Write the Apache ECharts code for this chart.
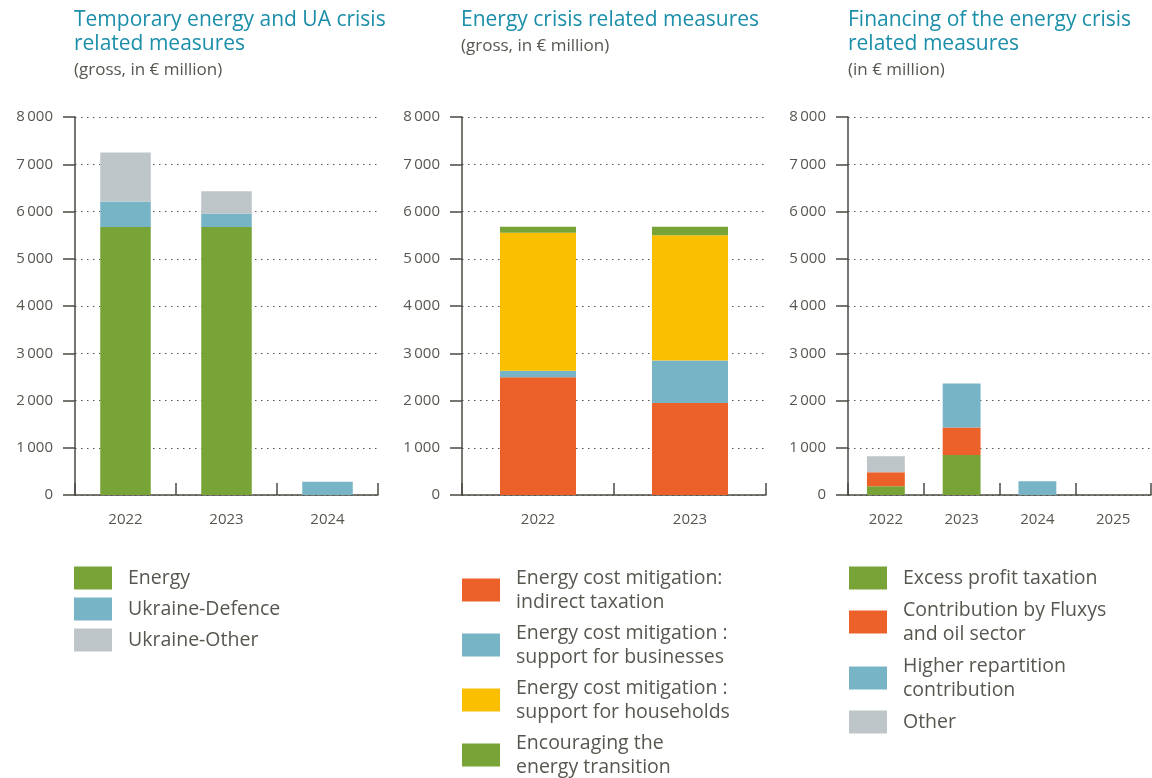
<!DOCTYPE html>
<html>
<head>
<meta charset="utf-8">
<script src="https://cdn.jsdelivr.net/npm/echarts@6/dist/echarts.min.js"></script>
<style>
html,body{margin:0;padding:0;background:#fff;}
#main{width:1152px;height:778px;}
</style>
</head>
<body>
<div id="main"></div>
<script>
// panel 1 : temporary energy and UA crisis measures
var years1 = ['2022', '2023', '2024'];
var energy = [5670, 5670, 0];
var uaDefence = [540, 290, 280];
var uaOther = [1040, 470, 0];

// panel 2 : energy crisis related measures
var years2 = ['2022', '2023'];
var indirectTax = [2490, 1945];
var businesses = [140, 900];
var households = [2920, 2650];
var transition = [125, 180];

// panel 3 : financing
var years3 = ['2022', '2023', '2024', '2025'];
var excessProfit = [185, 845, 0, 0];
var fluxys = [295, 585, 0, 0];
var repartition = [0, 930, 290, 0];
var finOther = [340, 0, 0, 0];

var GREEN = '#78a337', BLUE = '#76b4c6', GREY = '#bec5c8', RED = '#eb6129', YELLOW = '#f9bf00';
var TXT = '#57564f', AXIS = '#4c4a43', TEAL = '#1b8ea9';
var FONT = 'Open Sans';

function fmt(v){
	var s = String(v);
	if(s.length > 3){
		s = s.slice(0, s.length-3) + '\u2009' + s.slice(s.length-3);
	}
	return s;
}

function xAx(idx, cats){
	return {
		type: 'category', gridIndex: idx, data: cats,
		axisLine: { lineStyle: { color: AXIS, width: 1.5 } },
		axisTick: { show: true, inside: true, length: 12, lineStyle: { color: AXIS, width: 1.5 } },
		axisLabel: { color: TXT, fontSize: 15, fontFamily: FONT, margin: 17 }
	};
}
function yAx(idx){
	return {
		type: 'value', gridIndex: idx, min: 0, max: 8000, interval: 1000,
		axisLine: { show: true, lineStyle: { color: AXIS, width: 1.5 } },
		axisTick: { show: true, length: 12, lineStyle: { color: AXIS, width: 1.5 } },
		axisLabel: { color: TXT, fontSize: 15, fontFamily: FONT, margin: 22, formatter: fmt },
		splitLine: { show: true, lineStyle: { color: '#555', width: 1, type: [1.5, 4.5] } }
	};
}
function bar(name, data, idx, color){
	return {
		name: name, type: 'bar', stack: 's' + idx, xAxisIndex: idx, yAxisIndex: idx,
		data: data, barWidth: '50%', itemStyle: { color: color }, silent: true
	};
}
function leg(left, names, gap){
	return {
		left: left, top: 566, height: 300, orient: 'vertical', padding: 0, itemGap: gap,
		itemWidth: 38, itemHeight: 23, icon: 'rect', selectedMode: false,
		data: names,
		textStyle: { color: TXT, fontSize: 19.5, fontFamily: FONT, lineHeight: 24, padding: [0, 0, 0, 11] }
	};
}
function ttl(left, text, sub){
	return {
		left: left, top: 8, padding: 0, itemGap: 4, text: text, subtext: sub,
		textStyle: { color: TEAL, fontSize: 21, fontWeight: 'normal', fontFamily: FONT, lineHeight: 24 },
		subtextStyle: { color: TXT, fontSize: 17, fontFamily: FONT, lineHeight: 20 }
	};
}

var n1 = ['Energy', 'Ukraine-Defence', 'Ukraine-Other'];
var n2 = ['Energy cost mitigation:\nindirect taxation', 'Energy cost mitigation :\nsupport for businesses',
	'Energy cost mitigation :\nsupport for households', 'Encouraging the\nenergy transition'];
var n3 = ['Excess profit taxation', 'Contribution by Fluxys\nand oil sector', 'Higher repartition\ncontribution', 'Other'];

var myChart = echarts.init(document.getElementById('main'));
var option = {
	animation: false,
	backgroundColor: '#fff',
	title: [
		ttl(74, 'Temporary energy and UA crisis\nrelated measures', '(gross, in \u20ac million)'),
		ttl(461, 'Energy crisis related measures', '(gross, in \u20ac million)'),
		ttl(848, 'Financing of the energy crisis\nrelated measures', '(in \u20ac million)')
	],
	legend: [leg(74, n1, 7), leg(462, n2, 7), leg(849, n3, 8)],
	grid: [
		{ left: 75, top: 117, width: 303, height: 378 },
		{ left: 462, top: 117, width: 304, height: 378 },
		{ left: 848, top: 117, width: 303, height: 378 }
	],
	xAxis: [xAx(0, years1), xAx(1, years2), xAx(2, years3)],
	yAxis: [yAx(0), yAx(1), yAx(2)],
	series: [
		bar(n1[0], energy, 0, GREEN),
		bar(n1[1], uaDefence, 0, BLUE),
		bar(n1[2], uaOther, 0, GREY),
		bar(n2[0], indirectTax, 1, RED),
		bar(n2[1], businesses, 1, BLUE),
		bar(n2[2], households, 1, YELLOW),
		bar(n2[3], transition, 1, GREEN),
		bar(n3[0], excessProfit, 2, GREEN),
		bar(n3[1], fluxys, 2, RED),
		bar(n3[2], repartition, 2, BLUE),
		bar(n3[3], finOther, 2, GREY)
	]
};
myChart.setOption(option);
</script>
</body>
</html>
